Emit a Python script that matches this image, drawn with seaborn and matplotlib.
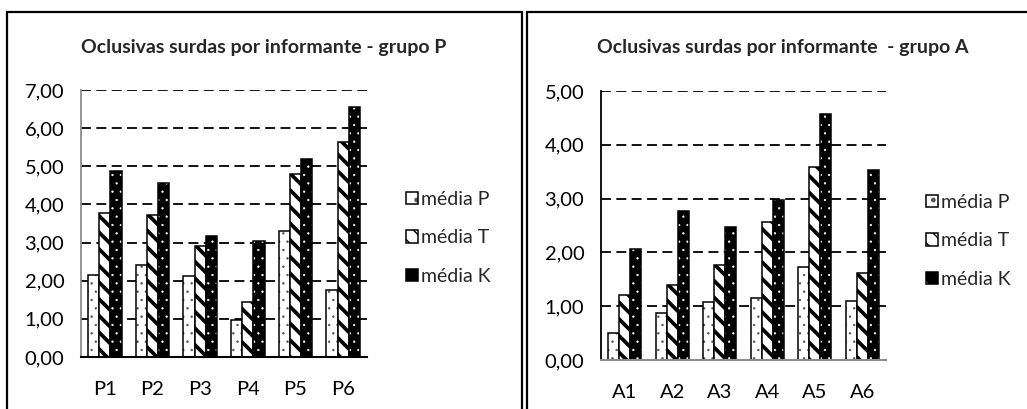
import numpy as np
import pandas as pd
import seaborn as sns
import matplotlib
matplotlib.use("Agg")
import matplotlib.pyplot as plt
from matplotlib.patches import Rectangle
from matplotlib.ticker import FuncFormatter, MultipleLocator
import matplotlib.colors as mcolors

# ---- data ----
series = ["média P", "média T", "média K"]
cats_p = ["P1", "P2", "P3", "P4", "P5", "P6"]
p_media_p = [2.15, 2.42, 2.13, 0.98, 3.31, 1.75]
p_media_t = [3.77, 3.71, 2.90, 1.44, 4.80, 5.63]
p_media_k = [4.88, 4.57, 3.18, 3.03, 5.18, 6.55]

cats_a = ["A1", "A2", "A3", "A4", "A5", "A6"]
a_media_p = [0.51, 0.87, 1.08, 1.16, 1.73, 1.09]
a_media_t = [1.21, 1.39, 1.76, 2.57, 3.59, 1.62]
a_media_k = [2.07, 2.77, 2.48, 2.98, 4.57, 3.54]

title_p = "Oclusivas surdas por informante - grupo P"
title_a = "Oclusivas surdas por informante  - grupo A"

sns.set_theme(style="white")
plt.rcParams["font.family"] = ["Lato", "DejaVu Sans"]

W, H = 1027, 409
fig = plt.figure(figsize=(W / 100, H / 100), dpi=100)

STYLES = [
    dict(face="white", hatch="..", hcol="#555555", hlw=0.5),
    dict(face="white", hatch="\\\\", hcol="black", hlw=2.7),
    dict(face="black", hatch="..", hcol="white", hlw=0.4),
]


def fx(px):
    return px / W


def fy(py):
    return 1 - py / H


def long_df(cats, vp, vt, vk):
    rows = []
    for s, vals in zip(series, [vp, vt, vk]):
        for c, v in zip(cats, vals):
            rows.append({"cat": c, "serie": s, "val": v})
    return pd.DataFrame(rows)


def apply_style(p, st):
    p.set_facecolor(st["face"])
    p.set_edgecolor("black")
    p.set_linewidth(1.1)
    p.set_hatch(st["hatch"])
    p._hatch_color = mcolors.to_rgba(st["hcol"])
    if hasattr(p, "set_hatch_linewidth"):
        p.set_hatch_linewidth(st["hlw"])
    else:
        p._hatch_linewidth = st["hlw"]


def make_panel(rect, cats, vp, vt, vk, ymax, left_spine_col, bottom_spine_col,
               title, title_xy, leg_xy):
    ax = fig.add_axes(rect)
    df = long_df(cats, vp, vt, vk)
    sns.barplot(data=df, x="cat", y="val", hue="serie", hue_order=series,
                order=cats, width=0.7, gap=0, legend=False, ax=ax,
                errorbar=None, saturation=1)
    for cont, st in zip(ax.containers, STYLES):
        for p in cont.patches:
            apply_style(p, st)
    ax.set_xlim(-0.5, len(cats) - 0.5)
    ax.set_ylim(0, ymax)
    ax.yaxis.set_major_locator(MultipleLocator(1))
    ax.yaxis.set_major_formatter(FuncFormatter(lambda v, _: f"{v:.2f}".replace(".", ",")))
    ax.set_xlabel("")
    ax.set_ylabel("")
    for s in ["top", "right"]:
        ax.spines[s].set_visible(False)
    ax.spines["left"].set_color(left_spine_col)
    ax.spines["left"].set_linewidth(1.3)
    ax.spines["bottom"].set_color(bottom_spine_col)
    ax.spines["bottom"].set_linewidth(1.5)
    ax.yaxis.grid(True, color="black", linewidth=1.3, linestyle=(0, (5.5, 3)))
    ax.xaxis.grid(False)
    ax.set_axisbelow(True)
    ax.tick_params(axis="both", length=0, labelsize=14.5, colors="black")
    ax.tick_params(axis="y", pad=12)
    ax.tick_params(axis="x", pad=17)
    ax.set_facecolor("none")
    fig.text(fx(title_xy[0]), fy(title_xy[1]), title, ha="center", va="center",
             fontsize=14, fontweight="bold")
    handles = []
    for st in STYLES:
        r = Rectangle((0, 0), 1, 1)
        apply_style(r, st)
        r.set_hatch(st["hatch"][0] if st["hatch"].startswith(".") else "\\\\")
        handles.append(r)
    ax.legend(handles, series, loc="center left",
              bbox_to_anchor=(fx(leg_xy[0]), fy(leg_xy[1])),
              bbox_transform=fig.transFigure, frameon=False,
              borderpad=0, borderaxespad=0, handlelength=0.6,
              handleheight=0.6, handletextpad=0.15, labelspacing=1.1,
              fontsize=14)
    return ax


# panel borders
fig.add_artist(Rectangle((fx(7), fy(420)), fx(522) - fx(7), fy(12) - fy(420),
                         transform=fig.transFigure, fill=False,
                         edgecolor="black", linewidth=1.6, clip_on=False))
fig.add_artist(Rectangle((fx(527), fy(420)), fx(1040) - fx(527), fy(12) - fy(420),
                         transform=fig.transFigure, fill=False,
                         edgecolor="black", linewidth=1.6, clip_on=False))

make_panel([fx(81), fy(357), fx(367) - fx(81), fy(90) - fy(357)],
           cats_p, p_media_p, p_media_t, p_media_k, 7, "#8c8c8c", "black",
           title_p, (264, 47), (406, 238))
make_panel([fx(601), fy(360), fx(886) - fx(601), fy(91) - fy(360)],
           cats_a, a_media_p, a_media_t, a_media_k, 5, "black", "#8c8c8c",
           title_a, (783, 47), (926, 241))

fig.savefig("out.png", dpi=100)
